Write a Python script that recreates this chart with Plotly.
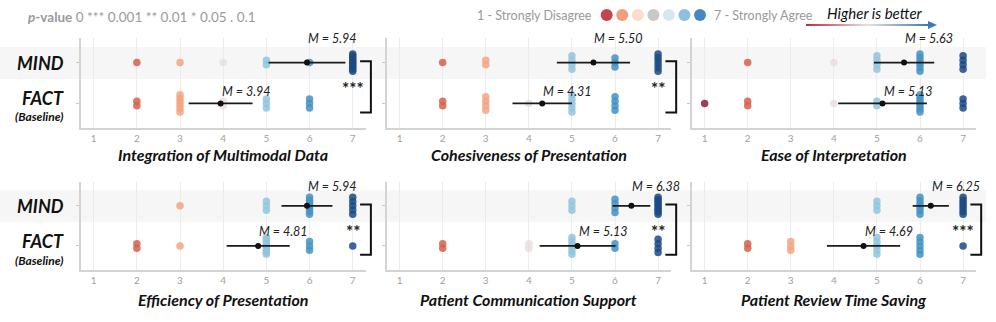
import plotly.graph_objects as go

W, H = 996, 322

titles = ["Integration of Multimodal Data", "Cohesiveness of Presentation", "Ease of Interpretation",
          "Efficiency of Presentation", "Patient Communication Support", "Patient Review Time Saving"]

ratings = [1, 2, 3, 4, 5, 6, 7]
# how many participants gave each rating (1..7), 16 per group
mind_counts = [
    [0, 1, 1, 1, 2, 1, 10],
    [0, 1, 2, 0, 4, 3, 6],
    [0, 1, 0, 1, 4, 6, 4],
    [0, 0, 1, 0, 3, 7, 5],
    [0, 0, 0, 0, 3, 4, 9],
    [0, 0, 0, 0, 3, 6, 7],
]
fact_counts = [
    [0, 2, 6, 2, 3, 3, 0],
    [0, 2, 4, 1, 5, 4, 0],
    [1, 2, 0, 1, 2, 7, 3],
    [0, 2, 1, 0, 9, 3, 1],
    [0, 2, 0, 2, 6, 2, 4],
    [0, 2, 3, 0, 5, 5, 1],
]
mind_mean = [5.94, 5.50, 5.63, 5.94, 6.38, 6.25]
fact_mean = [3.94, 4.31, 5.13, 4.81, 5.13, 4.69]
mind_ci = [0.89, 0.85, 0.70, 0.59, 0.44, 0.42]
fact_ci = [0.74, 0.69, 1.03, 0.73, 0.88, 0.85]
sig = ["***", "**", "", "**", "**", "***"]

rating_colors = ["#8b1e3f", "#d6604d", "#f4a582", "#eadfdc", "#92c5de", "#4393c3", "#1b4a85"]
legend_colors = ["#c5454f", "#f09f7a", "#fcdccb", "#c8c8c8", "#d5e8f2", "#8cc0de", "#4a86c0"]

FONT = "Lato"
XR = [0.7, 7.3]
YR = [-0.6, 1.6]
x_px = [(80.7, 365.7), (386.7, 671.0), (691.7, 976.0)]
y_px = [(38.0, 128.0), (181.7, 270.0)]


def xdom(c):
    return [x_px[c][0] / W, x_px[c][1] / W]


def ydom(r):
    return [1 - y_px[r][1] / H, 1 - y_px[r][0] / H]


def to_paper(i, x, y):
    xd, yd = xdom(i % 3), ydom(i // 3)
    px = xd[0] + (x - XR[0]) / (XR[1] - XR[0]) * (xd[1] - xd[0])
    py = yd[0] + (y - YR[0]) / (YR[1] - YR[0]) * (yd[1] - yd[0])
    return px, py


def stack(counts, base):
    xs, ys, cs = [], [], []
    for v, k in zip(ratings, counts):
        if k == 0:
            continue
        step = 0.11 if k < 2 else min(0.11, 0.42 / (k - 1))
        for j in range(k):
            xs.append(v)
            ys.append(base + (j - (k - 1) / 2) * step)
            cs.append(rating_colors[v - 1])
    return xs, ys, cs


fig = go.Figure()
annotations = []
shapes = []

# grey band behind MIND row
for r in range(2):
    y0 = ydom(r)[0] + (0.6 - YR[0]) / 2.2 * (ydom(r)[1] - ydom(r)[0])
    y1 = ydom(r)[0] + (1.38 - YR[0]) / 2.2 * (ydom(r)[1] - ydom(r)[0])
    shapes.append(dict(type="rect", xref="paper", yref="paper", x0=0, x1=0.99, y0=y0, y1=y1,
                       fillcolor="#f6f6f6", line_width=0, layer="below"))

for i in range(6):
    ax = "" if i == 0 else str(i + 1)
    for counts, base in ((mind_counts[i], 1), (fact_counts[i], 0)):
        xs, ys, cs = stack(counts, base)
        fig.add_trace(go.Scatter(x=xs, y=ys, mode="markers", xaxis="x" + ax, yaxis="y" + ax,
                                 marker=dict(size=7.5, color=cs, opacity=0.85, line_width=0),
                                 showlegend=False, hoverinfo="skip"))
    fig.add_trace(go.Scatter(x=[mind_mean[i], fact_mean[i]], y=[1, 0], mode="markers",
                             xaxis="x" + ax, yaxis="y" + ax,
                             marker=dict(size=6, color="#111"),
                             error_x=dict(type="data", array=[mind_ci[i], fact_ci[i]],
                                          color="#1a1a1a", thickness=1.8, width=0),
                             showlegend=False, hoverinfo="skip"))
    r = i // 3
    m_off = 0.6 if r == 0 else 0.48
    f_off = 0.30 if r == 0 else 0.35
    for mean, base, off in ((mind_mean[i], 1, m_off), (fact_mean[i], 0, f_off)):
        px, py = to_paper(i, mean, base + off)
        annotations.append(dict(x=px, y=py, xref="paper", yref="paper", xanchor="left", yanchor="middle",
                                xshift=-1, text="<i>M = %.2f</i>" % mean, showarrow=False,
                                font=dict(family=FONT, size=12.5, color="#222")))
    # panel title
    xd = xdom(i % 3)
    ty = 154 if r == 0 else 299
    annotations.append(dict(x=(xd[0] + xd[1]) / 2, y=1 - ty / H, xref="paper", yref="paper",
                            text="<b><i>%s</i></b>" % titles[i], showarrow=False,
                            xanchor="center", yanchor="middle",
                            font=dict(family=FONT, size=16, color="#111")))
    # significance bracket
    if sig[i]:
        xa, ya = to_paper(i, 7.17, 1.03)
        xb, yb = to_paper(i, 7.42, -0.22)
        shapes.append(dict(type="path", xref="paper", yref="paper",
                           path="M %f %f L %f %f L %f %f L %f %f" % (xa, ya, xb, ya, xb, yb, xa, yb),
                           line=dict(color="#111", width=2)))
        sx, sy = to_paper(i, 7.0, 0.36)
        annotations.append(dict(x=sx, y=sy, xref="paper", yref="paper", text="<b>%s</b>" % sig[i],
                                showarrow=False, xanchor="center", yanchor="middle",
                                font=dict(family=FONT, size=17, color="#222")))

    fig.update_layout(**{
        "xaxis" + ax: dict(domain=xdom(i % 3), range=XR, anchor="y" + ax, tickvals=ratings,
                           showgrid=True, gridcolor="#ececec", gridwidth=1, zeroline=False,
                           showline=True, linecolor="#d3d3d3", linewidth=1.5, ticks="",
                           tickfont=dict(family=FONT, size=10, color="#a0a0a0")),
        "yaxis" + ax: dict(domain=ydom(r), range=YR, anchor="x" + ax, tickvals=[0, 1],
                           showticklabels=False, ticks="outside", ticklen=3, tickcolor="#c8c8c8",
                           showgrid=False, zeroline=False, showline=True, linecolor="#d3d3d3",
                           linewidth=1.5),
    })

# row labels
for r in range(2):
    ys = (62.7, 98, 117) if r == 0 else (206, 241, 260)
    for txt, yy, sz in (("MIND", ys[0], 18), ("FACT", ys[1], 18), ("(Baseline)", ys[2], 12)):
        annotations.append(dict(x=66 / W, y=1 - yy / H, xref="paper", yref="paper", text="<b><i>%s</i></b>" % txt,
                                showarrow=False, xanchor="right", yanchor="middle",
                                font=dict(family=FONT, size=sz, color="#111")))

# header: p-value key
annotations.append(dict(x=26 / W, y=1 - 17 / H, xref="paper", yref="paper", xanchor="left", yanchor="middle",
                        text="<b><i>p</i>-value</b> 0 *** 0.001 ** 0.01 * 0.05 . 0.1", showarrow=False,
                        font=dict(family=FONT, size=13.5, color="#9a9a9a")))
# header: rating scale legend
annotations.append(dict(x=594 / W, y=1 - 15 / H, xref="paper", yref="paper", xanchor="right", yanchor="middle",
                        text="1 - Strongly Disagree", showarrow=False,
                        font=dict(family=FONT, size=12.5, color="#9a9a9a")))
annotations.append(dict(x=712 / W, y=1 - 15 / H, xref="paper", yref="paper", xanchor="left", yanchor="middle",
                        text="7 - Strongly Agree", showarrow=False,
                        font=dict(family=FONT, size=12.5, color="#9a9a9a")))
fig.add_trace(go.Scatter(x=[606.7 + 15.55 * k for k in range(7)], y=[15] * 7, mode="markers",
                         xaxis="x7", yaxis="y7", showlegend=False, hoverinfo="skip",
                         marker=dict(size=12, color=legend_colors, line_width=0)))
fig.update_layout(xaxis7=dict(domain=[0, 1], range=[0, W], visible=False, anchor="y7"),
                  yaxis7=dict(domain=[0, 1], range=[H, 0], visible=False, anchor="x7"))

# header: "Higher is better" arrow
annotations.append(dict(x=875 / W, y=1 - 13 / H, xref="paper", yref="paper", xanchor="center", yanchor="middle",
                        text="<i>Higher is better</i>", showarrow=False,
                        font=dict(family=FONT, size=15, color="#111")))


def mix(a, b, t):
    a = [int(a[k:k + 2], 16) for k in (1, 3, 5)]
    b = [int(b[k:k + 2], 16) for k in (1, 3, 5)]
    return "rgb(%d,%d,%d)" % tuple(round(a[k] + (b[k] - a[k]) * t) for k in range(3))


ax0, ax1, ay = 806.0, 930.0, 25.0
nseg = 40
for k in range(nseg):
    t = k / (nseg - 1)
    col = mix("#c42a3c", "#e6e2e2", t * 2) if t < 0.5 else mix("#e6e2e2", "#3a78b8", (t - 0.5) * 2)
    xa = ax0 + (ax1 - ax0) * k / nseg
    xb = ax0 + (ax1 - ax0) * (k + 1) / nseg + 0.5
    shapes.append(dict(type="line", xref="paper", yref="paper", x0=xa / W, x1=xb / W,
                       y0=1 - ay / H, y1=1 - ay / H, line=dict(color=col, width=2)))
shapes.append(dict(type="path", xref="paper", yref="paper", fillcolor="#3a78b8", line_width=0,
                   path="M %f %f L %f %f L %f %f Z" % (928 / W, 1 - 21 / H, 937 / W, 1 - ay / H, 928 / W, 1 - 29 / H)))

fig.update_layout(width=W, height=H, margin=dict(l=0, r=0, t=0, b=0),
                  paper_bgcolor="white", plot_bgcolor="rgba(0,0,0,0)",
                  font=dict(family=FONT), annotations=annotations, shapes=shapes, showlegend=False)

fig.write_html("out.html", config={"displayModeBar": False},
               post_script="document.body.style.margin='0';document.body.style.overflow='hidden';")
